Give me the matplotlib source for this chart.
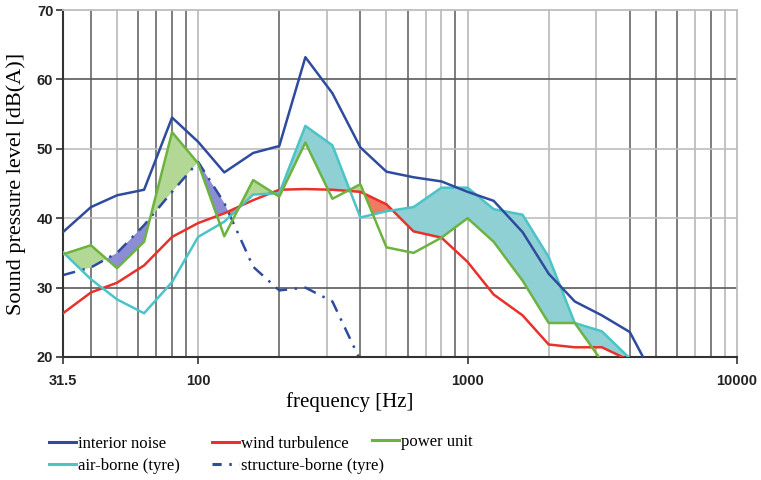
import numpy as np
import matplotlib
matplotlib.use("Agg")
import matplotlib.pyplot as plt
from matplotlib.lines import Line2D
from matplotlib.ticker import NullLocator

nan = np.nan
freqs = [31.5, 40, 50, 63, 80, 100, 125, 160, 200, 250, 315, 400, 500,
         630, 800, 1000, 1250, 1600, 2000, 2500, 3150, 4000, 5000]
interior = [38.0, 41.6, 43.3, 44.1, 54.5, 51.0, 46.6, 49.4, 50.4, 63.2, 58.0, 50.2,
            46.7, 45.9, 45.3, 43.8, 42.5, 38.0, 32.0, 28.0, 26.0, 23.6, 16.5]
wind = [26.3, 29.3, 30.7, 33.2, 37.3, 39.3, 40.7, 42.6, 44.1, 44.2, 44.1, 43.8,
        42.0, 38.1, 37.2, 33.7, 29.0, 26.0, 21.8, 21.4, 21.4, 19.5, nan]
power = [34.8, 36.1, 32.8, 36.6, 52.4, 47.9, 37.4, 45.5, 43.1, 50.9, 42.8, 44.9,
         35.8, 35.0, 37.2, 40.0, 36.6, 31.0, 24.9, 24.9, 19.4, nan, nan]
airborne = [35.1, 31.2, 28.3, 26.3, 30.8, 37.3, 39.5, 43.4, 43.6, 53.3, 50.5, 40.1,
            41.0, 41.6, 44.4, 44.4, 41.3, 40.5, 34.4, 24.9, 23.7, 19.8, nan]
structure = [31.8, 32.9, 35.0, 39.0, 43.8, 48.1, 42.2, 33.0, 29.6, 30.0, 28.0, 19.5,
             nan, nan, nan, nan, nan, nan, nan, nan, nan, nan, nan]

xtick_vals = [31.5, 100, 1000, 10000]
xtick_labels = ["31.5", "100", "1000", "10000"]
ytick_vals = [20, 30, 40, 50, 60, 70]

c_int = "#2f4b9e"
c_wind = "#e8312a"
c_pow = "#6cb33f"
c_air = "#4cc3c8"
c_str = "#2f4b9e"

fig = plt.figure(figsize=(7.61, 4.80), dpi=100)
ax = fig.add_axes([63/761, 1-357/480, (737-63)/761, (357-10)/480])
ax.set_xscale("log")
ax.set_xlim(31.5, 10000)
ax.set_ylim(20, 70)

dark = "#5a5a5a"
light = "#bdbdbd"
dark_v = [40, 60, 70, 80, 90, 200, 400, 600, 900, 4000, 5000, 6000, 8000]
light_v = [50, 100, 300, 500, 700, 800, 1000, 2000, 3000, 7000, 9000]
for v in dark_v:
    ax.axvline(v, color=dark, lw=1.1, zorder=0.5)
for v in light_v:
    ax.axvline(v, color=light, lw=1.3, zorder=0.5)
for v, c in [(30, dark), (40, light), (50, light), (60, dark)]:
    ax.axhline(v, color=c, lw=1.2, zorder=0.5)

# dominant-source shading: between highest and second highest component
comps = [wind, power, airborne, structure]
fill_cols = ["#f07a62", "#b3d794", "#8fd0d4", "#8c8dd5"]
lf = np.log10(freqs)
xx = np.linspace(lf[0], lf[-1], 4000)
stack = []
for comp in comps:
    arr = np.array(comp, dtype=float)
    arr = np.where(np.isnan(arr), 0.0, arr)
    stack.append(np.interp(xx, lf, arr))
stack = np.array(stack)
order = np.sort(stack, axis=0)
top = order[-1]
second = order[-2]
idx = np.argmax(stack, axis=0)
fx = 10 ** xx
for i, col in enumerate(fill_cols):
    ax.fill_between(fx, second, top, where=(idx == i), color=col, lw=0, zorder=1)

lw = 1.8
ax.plot(freqs, structure, color=c_str, lw=lw, dashes=[5, 3, 1, 3], zorder=2)
ax.plot(freqs, wind, color=c_wind, lw=lw, zorder=3)
ax.plot(freqs, airborne, color=c_air, lw=lw, zorder=3)
ax.plot(freqs, power, color=c_pow, lw=lw, zorder=4)
ax.plot(freqs, interior, color=c_int, lw=lw, zorder=5)

ax.xaxis.set_minor_locator(NullLocator())
ax.set_xticks(xtick_vals)
ax.set_xticklabels(xtick_labels)
ax.set_yticks(ytick_vals)
ax.set_yticklabels([str(v) for v in ytick_vals])
for lab in ax.get_xticklabels() + ax.get_yticklabels():
    lab.set_fontfamily("Liberation Sans")
    lab.set_fontweight("bold")
    lab.set_fontsize(10.5)
    lab.set_color("#222222")
ax.tick_params(axis="x", length=5, width=1.2, pad=7, color="#333333")
ax.tick_params(axis="y", length=5, width=1.2, pad=2, color="#333333")

ax.spines["left"].set_color("#333333")
ax.spines["left"].set_linewidth(1.5)
ax.spines["bottom"].set_color("#333333")
ax.spines["bottom"].set_linewidth(1.5)
ax.spines["top"].set_color(light)
ax.spines["top"].set_linewidth(1.3)
ax.spines["right"].set_color(light)
ax.spines["right"].set_linewidth(1.3)

serif = "Liberation Serif"
ax.set_ylabel("Sound pressure level [dB(A)]", fontfamily=serif, fontsize=16, labelpad=8)
fig.text(350/761, 1-402/480, "frequency [Hz]", fontfamily=serif, fontsize=15,
         ha="center", va="center")

h_int = Line2D([], [], color=c_int, lw=2.2)
h_wind = Line2D([], [], color=c_wind, lw=2.2)
h_pow = Line2D([], [], color=c_pow, lw=2.2)
h_air = Line2D([], [], color=c_air, lw=2.2)
h_str = Line2D([], [], color=c_str, lw=2.2, dashes=[3, 2.5, 0.8, 2.5])

common = dict(frameon=False, prop={"family": serif, "size": 12}, handlelength=1.6,
              handletextpad=0.15, borderpad=0, borderaxespad=0, labelspacing=0.35,
              loc="center left")
fig.legend([h_int, h_air], ["interior noise", "air-borne (tyre)"],
           bbox_to_anchor=(49/761, 1-455/480), **common)
fig.legend([h_wind, h_str], ["wind turbulence", "structure-borne (tyre)"],
           bbox_to_anchor=(212/761, 1-455/480), **common)
fig.legend([h_pow], ["power unit"],
           bbox_to_anchor=(372/761, 1-442/480), **common)

fig.savefig("out.png", dpi=100)
